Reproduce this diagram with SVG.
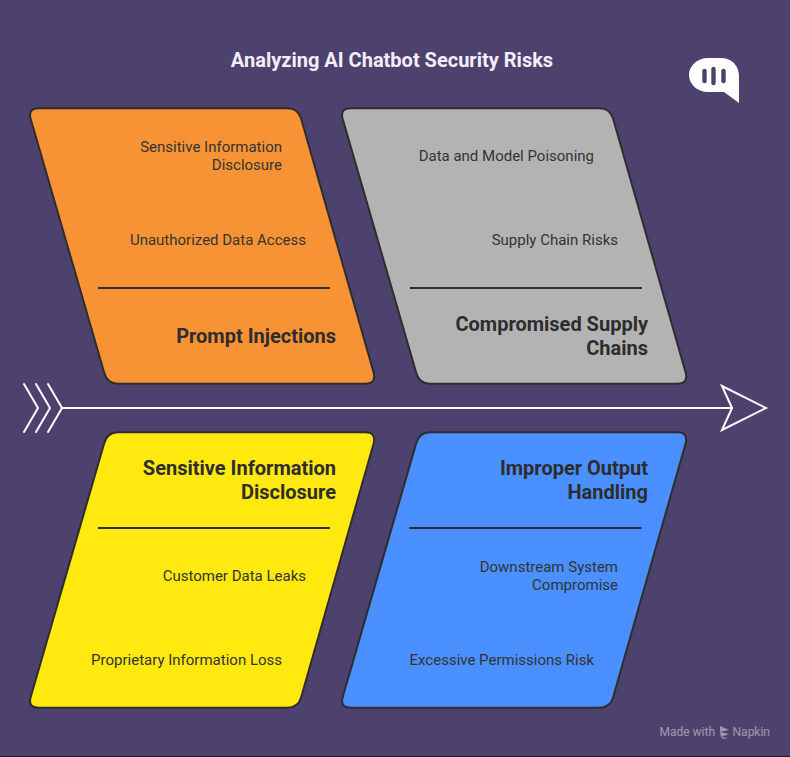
<svg xmlns="http://www.w3.org/2000/svg" width="790" height="757" viewBox="0 0 790 757">
<style>
text{font-family:Roboto,"Liberation Sans",sans-serif;text-anchor:end;fill:#2d2d2d}
.i{font-size:15px;fill:#333}
.h{font-size:20px;font-weight:700}
.s{stroke:#2d2d2d;stroke-width:2;stroke-linejoin:round}
.d{stroke:#2d2d2d;stroke-width:2;fill:none}
.w{stroke:#fff;stroke-width:2;fill:none;stroke-linecap:round;stroke-linejoin:miter}
</style>
<defs>
<path id="up" d="M39,108.3H287Q298,108.3 301,118.3L373.5,372Q376.5,383.7 365.5,383.7H118Q107,383.7 104,372L30.5,118.3Q28,108.3 39,108.3Z"/>
<path id="dn" d="M39,707.7H287Q298,707.7 301,697.7L373.5,444Q376.5,432.3 365.5,432.3H118Q107,432.3 104,444L30.5,697.7Q28,707.7 39,707.7Z"/>
</defs>
<rect width="790" height="757" fill="#4d426e"/>
<rect y="756" width="790" height="1" fill="#1c1c1c"/>
<text x="392" y="67" style="text-anchor:middle;font-size:20px;font-weight:700;fill:#f4eefb">Analyzing AI Chatbot Security Risks</text>
<g id="logo"><path fill="#fff" d="M708,58H721C732,58 739,66 739,76V103L724,92H708C697,92 689,84 689,75C689,66 697,58 708,58Z"/>
<g stroke="#4d426e" stroke-width="4.4" stroke-linecap="round"><path d="M704.5,71V81M713.5,69V83M723.5,71V81"/></g></g>
<g id="connectors">
<path class="w" d="M62,408H732" stroke-width="2.2"/>
<path class="w" d="M24,384L38,408L24,432M36,384L50,408L36,432M48,384L62,408L48,432"/>
<path class="w" d="M722,386L766,408L722,430L732,408Z"/>
</g>
<g id="node-prompt-injections"><use href="#up" class="s" fill="#f79335"/>
<path class="d" d="M98,288H330"/>
<text class="i" x="282" y="152">Sensitive Information</text><text class="i" x="282" y="170">Disclosure</text>
<text class="i" x="306" y="245">Unauthorized Data Access</text>
<text class="h" x="336" y="343">Prompt Injections</text></g>
<g id="node-supply-chains"><use href="#up" x="312" class="s" fill="#b3b3b3"/>
<path class="d" d="M410,288H642"/>
<text class="i" x="594" y="161">Data and Model Poisoning</text>
<text class="i" x="618" y="245">Supply Chain Risks</text>
<text class="h" x="648" y="331">Compromised Supply</text><text class="h" x="648" y="355">Chains</text></g>
<g id="node-sensitive-info"><use href="#dn" class="s" fill="#ffe90f"/>
<path class="d" d="M98,528H330"/>
<text class="h" x="336" y="475">Sensitive Information</text><text class="h" x="336" y="499">Disclosure</text>
<text class="i" x="306" y="581">Customer Data Leaks</text>
<text class="i" x="282" y="665">Proprietary Information Loss</text></g>
<g id="node-output-handling"><use href="#dn" x="312" class="s" fill="#4a90ff"/>
<path class="d" d="M409.5,528H641.5"/>
<text class="h" x="648" y="475">Improper Output</text><text class="h" x="648" y="499">Handling</text>
<text class="i" x="618" y="572">Downstream System</text><text class="i" x="618" y="590">Compromise</text>
<text class="i" x="594" y="665">Excessive Permissions Risk</text></g>
<g id="watermark" opacity="0.45">
<text x="715" y="736" style="font-size:12px;fill:#fff">Made with</text>
<path d="M720,726L729,730L720,732ZM720,732L729,734L721,737ZM721,737L728,738L723,739Z" fill="#fff"/>
<text x="770" y="736" style="font-size:12px;fill:#fff">Napkin</text></g>
</svg>
